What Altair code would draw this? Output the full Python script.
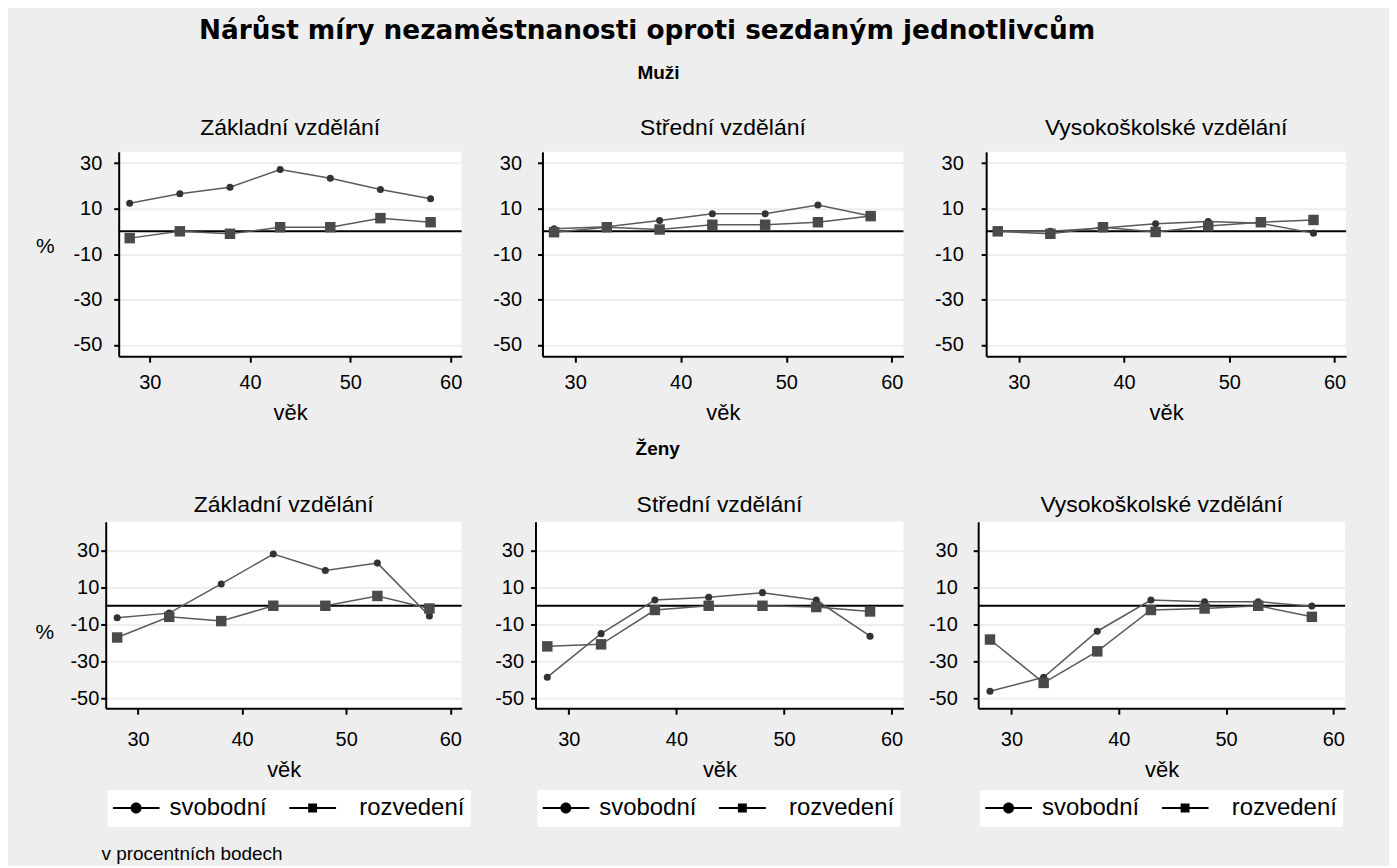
import altair as alt
import pandas as pd

# ---------------- data ----------------
ages = [28, 33, 38, 43, 48, 53, 58]
series_names = ["svobodní", "rozvedení"]
legend_labels = ["svobodní", "\u200b\u00a0\u00a0rozvedení"]

group_names = ["Muži", "Ženy"]
edu_names = ["Základní vzdělání", "Střední vzdělání", "Vysokoškolské vzdělání"]

muzi_zakl_svob = [12.4, 16.5, 19.4, 27.2, 23.4, 18.4, 14.3]
muzi_zakl_rozv = [-3.0, 0.0, -1.1, 1.8, 1.8, 5.8, 4.0]
muzi_stred_svob = [1.1, 2.0, 4.8, 7.7, 7.7, 11.6, 6.7]
muzi_stred_rozv = [-0.4, 1.8, 0.8, 2.9, 2.9, 4.0, 6.7]
muzi_vs_svob = [0.0, 0.0, 1.5, 3.3, 4.3, 3.5, -0.8]
muzi_vs_rozv = [0.0, -1.1, 1.8, -0.3, 2.3, 4.0, 5.0]

zeny_zakl_svob = [-6.5, -4.0, 11.8, 28.0, 19.1, 23.1, -5.6]
zeny_zakl_rozv = [-17.2, -6.0, -8.3, 0.0, 0.0, 5.3, -1.5]
zeny_stred_svob = [-38.7, -15.1, 3.1, 4.6, 7.1, 3.1, -16.5]
zeny_stred_rozv = [-22.0, -20.9, -2.3, 0.0, 0.0, -0.7, -3.1]
zeny_vs_svob = [-46.3, -38.7, -13.8, 3.1, 2.2, 2.2, -0.2]
zeny_vs_rozv = [-18.3, -41.8, -24.7, -2.3, -1.5, 0.0, -6.0]

y_ticks = [-50, -30, -10, 10, 30]
x_ticks = [30, 40, 50, 60]

main_title = "Nárůst míry nezaměstnanosti oproti sezdaným jednotlivcům"
footnote = "v procentních bodech"
x_title = "věk"
y_title = "%"

FONT = "Liberation Sans"

# legend symbols: line with marker (custom paths in [-1,1] box)
t = 0.043
rc = 0.235
rs = 0.19
path_circle = (
    f"M-1,-{t}L-{rc},-{t}L-{rc},{t}L-1,{t}Z"
    f"M{rc},-{t}L1,-{t}L1,{t}L{rc},{t}Z"
    f"M-{rc},0A{rc},{rc} 0 1,0 {rc},0A{rc},{rc} 0 1,0 -{rc},0Z"
)
path_square = (
    f"M-1,-{t}L-{rs},-{t}L-{rs},{t}L-1,{t}Z"
    f"M{rs},-{t}L1,-{t}L1,{t}L{rs},{t}Z"
    f"M-{rs},-{rs}L{rs},-{rs}L{rs},{rs}L-{rs},{rs}Z"
)


def make_panel(edu, svob, rozv, row, col):
    df = pd.DataFrame({
        "věk": ages + ages,
        "hodnota": svob + rozv,
        "stav": [series_names[0]] * len(ages) + [series_names[1]] * len(ages),
        "legenda": [legend_labels[0]] * len(ages) + [legend_labels[1]] * len(ages),
    })
    zero_df = pd.DataFrame({"nula": [0]})

    if row == 0:
        width = [344, 362, 361][col]
        height = 205
        ydom = [-55, 35]
        lab_pad = [12, 16, 18][col]
        title_x = -74
        title_y = 95
        x_lab_pad = 10
        x_title_pad = 10
        title_offset = 12
    else:
        width = [357, 369, 368][col]
        height = 187
        ydom = [-55.5, 45.5]
        lab_pad = [2, 7, 16][col]
        title_x = -61.5
        title_y = 111
        x_lab_pad = 15
        x_title_pad = 10
        title_offset = 5

    xs = alt.Scale(domain=[26.9, 61.1], nice=False, zero=False)
    ys = alt.Scale(domain=ydom, nice=False, zero=False)

    x_axis = alt.Axis(values=x_ticks, title=x_title, grid=False,
                      labelFont=FONT, labelFontSize=20, labelColor="black",
                      labelPadding=x_lab_pad, tickSize=6, tickWidth=2, tickColor="black",
                      domainColor="black", domainWidth=2,
                      titleFont=FONT, titleFontSize=22, titleFontWeight="normal",
                      titleColor="black", titlePadding=x_title_pad)
    y_kwargs = dict(values=y_ticks, grid=True, gridColor="#eeeeee", gridWidth=2,
                    labelFont=FONT, labelFontSize=20, labelColor="black",
                    labelExpr="'' + datum.value",
                    labelPadding=lab_pad, tickSize=5, tickWidth=2, tickColor="black",
                    domainColor="black", domainWidth=2)
    if col == 0:
        y_axis = alt.Axis(title=y_title, titleAngle=0, titleFont=FONT, titleFontSize=21,
                          titleFontWeight="normal", titleColor="black",
                          titleX=title_x, titleY=title_y, titleAlign="center",
                          titleBaseline="middle", **y_kwargs)
    else:
        y_axis = alt.Axis(title=None, **y_kwargs)

    base = alt.Chart(df)
    zero = alt.Chart(zero_df).mark_rule(color="black", strokeWidth=2).encode(
        y=alt.Y("nula:Q", scale=ys, axis=y_axis)
    )
    lines = base.mark_line(stroke="#5a5a5a", strokeWidth=1.5).encode(
        x=alt.X("věk:Q", scale=xs, axis=x_axis),
        y=alt.Y("hodnota:Q", scale=ys, axis=y_axis),
        detail="stav:N",
    )
    points = base.mark_point(filled=True, opacity=1).encode(
        x=alt.X("věk:Q", scale=xs, axis=x_axis),
        y=alt.Y("hodnota:Q", scale=ys, axis=y_axis),
        shape=alt.Shape("stav:N", scale=alt.Scale(domain=series_names, range=["circle", "square"]), legend=None),
        size=alt.Size("stav:N", scale=alt.Scale(domain=series_names, range=[50, 110]), legend=None),
        color=alt.Color("stav:N", scale=alt.Scale(domain=series_names, range=["#333333", "#4a4a4a"]), legend=None),
    )
    layers = [zero, lines, points]
    if row == 1:
        leg = base.mark_point(filled=True, opacity=0, color="black").encode(
            x=alt.X("věk:Q", scale=xs, axis=x_axis),
            y=alt.Y("hodnota:Q", scale=ys, axis=y_axis),
            shape=alt.Shape(
                "legenda:N",
                scale=alt.Scale(domain=legend_labels, range=[path_circle, path_square]),
                legend=alt.Legend(
                    orient="none", legendX=2, legendY=269, direction="horizontal",
                    title=None, fillColor="white", strokeColor="white", padding=5,
                    symbolSize=2209, symbolOpacity=1, symbolFillColor="black",
                    symbolStrokeWidth=0, clipHeight=26,
                    labelFont=FONT, labelFontSize=24, labelColor="black",
                    labelOffset=10, columnPadding=22,
                ),
            ),
        )
        layers.append(leg)

    return alt.layer(*layers).properties(
        width=width, height=height,
        title=alt.TitleParams(edu, font=FONT, fontSize=23, fontWeight="normal",
                              color="black", anchor="middle", offset=title_offset),
    ).resolve_scale(shape="independent")


def spacer():
    sp = pd.DataFrame({"s": [0]})
    return alt.Chart(sp).mark_point(opacity=0).encode(
        x=alt.X("s:Q", axis=None), y=alt.Y("s:Q", axis=None)
    ).properties(width=1, height=1, view=alt.ViewBackground(fillOpacity=0, strokeOpacity=0))


data_rows = [
    [(muzi_zakl_svob, muzi_zakl_rozv), (muzi_stred_svob, muzi_stred_rozv), (muzi_vs_svob, muzi_vs_rozv)],
    [(zeny_zakl_svob, zeny_zakl_rozv), (zeny_stred_svob, zeny_stred_rozv), (zeny_vs_svob, zeny_vs_rozv)],
]

rows = []
for r, row_data in enumerate(data_rows):
    panels = [make_panel(edu_names[c], s, d, r, c) for c, (s, d) in enumerate(row_data)]
    panel_row = alt.hconcat(*panels, spacing=30 if r == 0 else 24).properties(
        title=alt.TitleParams(group_names[r], font=FONT, fontSize=19, fontWeight="bold",
                              color="black", anchor="middle", dx=-33,
                              offset=34 if r == 0 else 35)
    ).resolve_scale(shape="independent", x="independent", y="independent")
    rows.append(
        alt.hconcat(spacer(), panel_row, spacing=0).resolve_scale(
            shape="independent", x="independent", y="independent")
    )

inner = alt.vconcat(*rows, spacing=17).properties(
    title=alt.TitleParams(main_title, font="DejaVu Sans", fontSize=26.4, fontWeight="bold",
                          color="black", anchor="middle", dx=-41, offset=20)
).resolve_scale(shape="independent", x="independent", y="independent")

chart = alt.vconcat(inner).properties(
    title=alt.TitleParams(footnote, orient="bottom", anchor="start", font=FONT,
                          fontSize=19, fontWeight="normal", color="black", dx=73, offset=19),
    background="#eeeeee",
    padding={"left": 20, "top": 8, "right": 42, "bottom": 0},
).configure_view(fill="white", strokeWidth=0)

chart.save("out.html", embed_options={"renderer": "svg", "actions": False})
